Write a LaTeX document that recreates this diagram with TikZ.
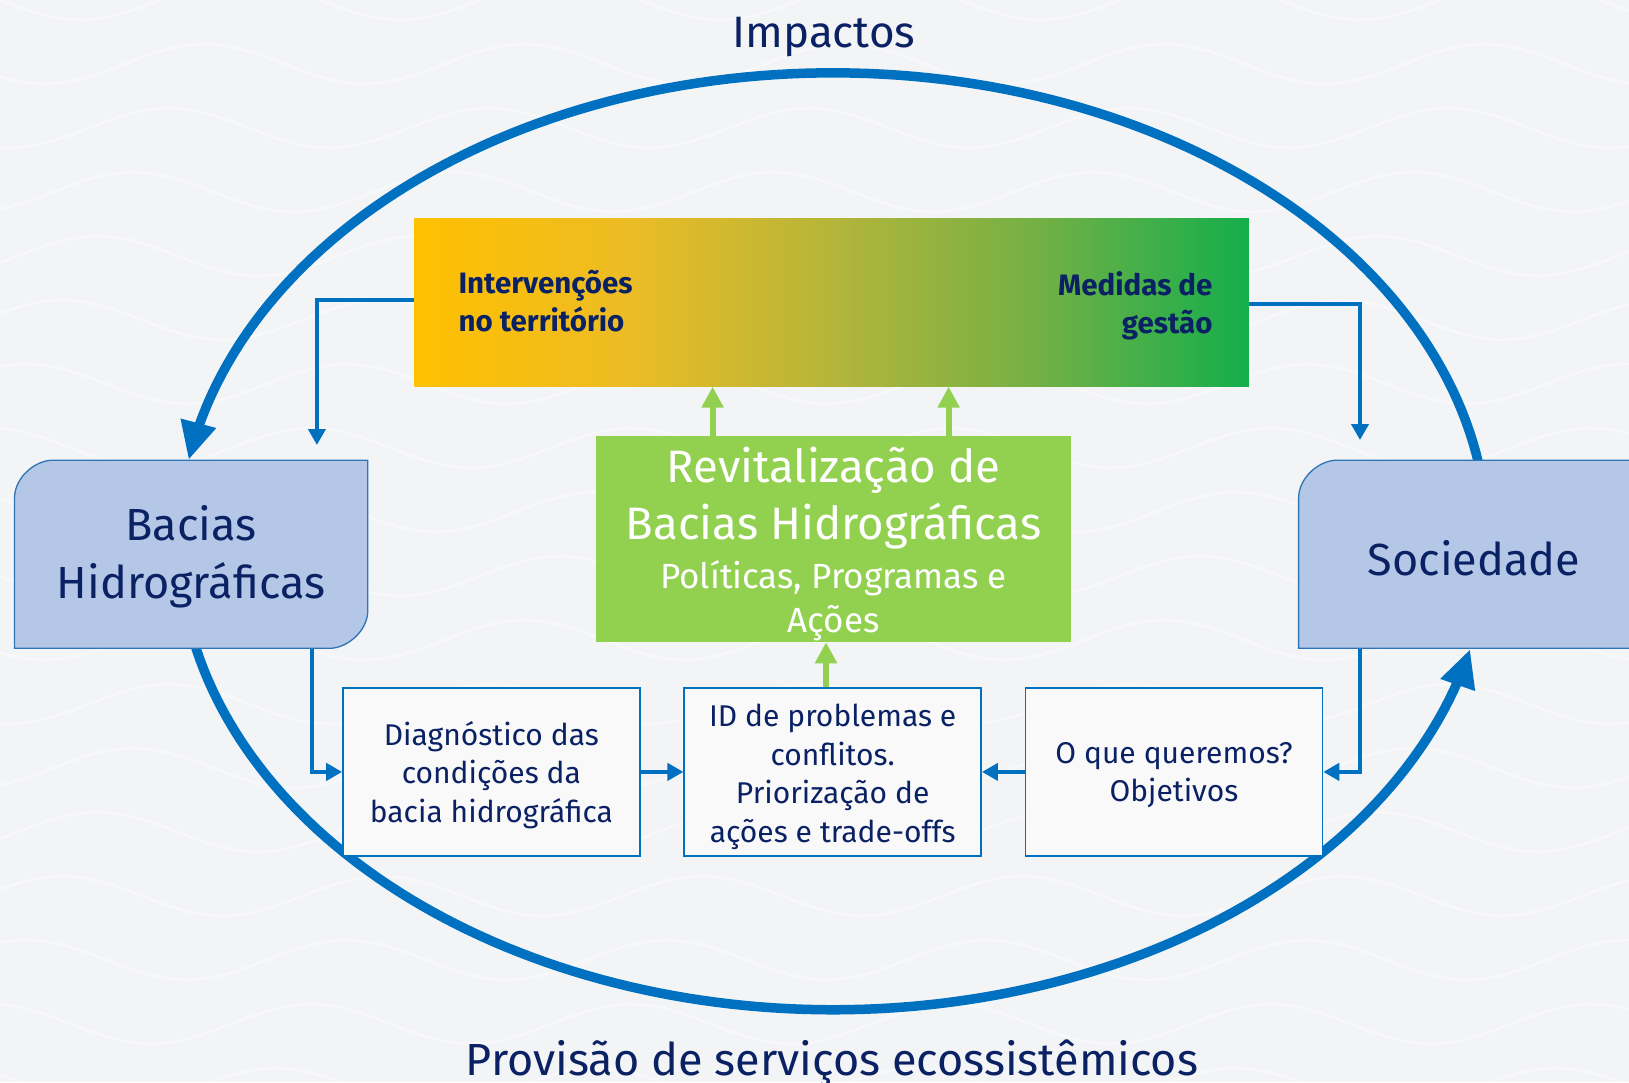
\documentclass[tikz,border=0pt]{standalone}
\usepackage{fontspec}
\setmainfont{Fira Sans}
\usetikzlibrary{arrows.meta}
\definecolor{navy}{HTML}{0A2164}
\definecolor{blu}{HTML}{0070C0}
\definecolor{boxfill}{HTML}{B4C7E7}
\definecolor{boxline}{HTML}{2E75B6}
\definecolor{grn}{HTML}{92D050}
\definecolor{bgc}{HTML}{F3F4F6}
\definecolor{ga}{HTML}{FFC000}
\definecolor{gb}{HTML}{EDBC24}
\definecolor{gc}{HTML}{B5B53A}
\definecolor{gd}{HTML}{72B045}
\definecolor{ge}{HTML}{14AE4C}
\definecolor{smallfill}{HTML}{F9F9FA}
\pgfdeclarehorizontalshading{barshade}{100bp}{color(0bp)=(ga); color(25bp)=(ga); color(37.5bp)=(gb); color(50bp)=(gc); color(62.5bp)=(gd); color(75bp)=(ge); color(100bp)=(ge)}
\tikzset{
  bigarc/.style={blu, line width=9.5pt, -{Triangle[length=38pt,width=34pt]}},
  bconn/.style={blu, line width=4pt, -{Triangle[length=16pt,width=17pt]}},
  gconn/.style={grn, line width=6pt, -{Triangle[length=21pt,width=21pt]}},
  smallbox/.style={draw=blu, line width=1.5pt, fill=smallfill, minimum width=297pt, minimum height=168pt, inner sep=0pt},
  smalltxt/.style={text=navy, align=center, font=\fontsize{30}{38.5}\selectfont},
  bigtxt/.style={text=navy, align=center, font=\fontsize{45}{58}\selectfont},
  bartxt/.style={text=navy, font=\bfseries\fontsize{29.5}{37.5}\selectfont},
  wave/.style={white, line width=2.5pt, opacity=0.45}
}
\begin{document}
\begin{tikzpicture}[x=1pt,y=-1pt]
\fill[bgc] (0,0) rectangle (1629,1082);
\useasboundingbox (0,0) rectangle (1629,1082);
\begin{scope}
\clip (0,0) rectangle (1629,1082);
\foreach \r in {0,...,17} {
  \draw[wave] plot[domain=-100:1750, samples=90] (\x, {\r*64 + 20*sin(\x*1.125 + \r*40)});
}
\end{scope}

% titles
\node[anchor=base, text=navy, font=\fontsize{44}{50}\selectfont] (imp) at (824,47) {Impactos};
\node[anchor=base, text=navy, font=\fontsize{45}{50}\selectfont] (prov) at (832,1075) {Provisão de serviços ecossistêmicos};

% big ellipse arcs
\draw[bigarc] plot[domain=-8:-170, samples=120] ({833.2+654.5*cos(\x)}, {541.3+468.5*sin(\x)});
\draw[bigarc] plot[domain=168:13.3, samples=120] ({833.2+654.5*cos(\x)}, {541.3+468.5*sin(\x)});

% gradient bar
\node[minimum width=834.3pt, minimum height=168.3pt, inner sep=0pt, shading=barshade] (bar) at (831.6,302.3) {};
\node[bartxt, anchor=west, align=left] (interv) at (455,301.3) {Intervenções\\no território};
\node[bartxt, anchor=east, align=right] (medidas) at (1216,305.8) {Medidas de\\gestão};

% green box
\node[fill=grn, minimum width=474.7pt, minimum height=205.7pt, inner sep=0pt] (rev) at (833.6,539.2) {};
\node[text=white, align=center, font=\fontsize{45.5}{57.4}\selectfont] (revt) at (833.6,498.3) {Revitalização de\\Bacias Hidrográficas};
\node[text=white, align=center, font=\fontsize{35}{43.4}\selectfont] (revs) at (833.6,600.5) {Políticas, Programas e\\Ações};

% Bacias box
\node[minimum width=353.3pt, minimum height=188.1pt, inner sep=0pt] (bacias) at (191.15,554.25) {};
\draw[fill=boxfill, draw=boxline, line width=1.3pt]
  (14.5,648.3) -- (14.5,498.2) .. controls (14.5,477.2) and (35.5,460.2) .. (52.5,460.2)
  -- (367.8,460.2) -- (367.8,610.3) .. controls (367.8,631.3) and (346.8,648.3) .. (329.8,648.3) -- cycle;
\node[bigtxt] (bacl) at (191,557) {Bacias\\Hidrográficas};

% Sociedade box
\node[minimum width=361.4pt, minimum height=188.1pt, inner sep=0pt] (soc) at (1479.3,554.25) {};
\draw[fill=boxfill, draw=boxline, line width=1.3pt]
  (1298.6,648.3) -- (1298.6,498.2) .. controls (1298.6,477.2) and (1319.6,460.2) .. (1336.6,460.2)
  -- (1640,460.2) -- (1640,648.3) -- cycle;
\node[bigtxt] (socl) at (1474,558) {Sociedade};

% small boxes
\node[smallbox] (diag) at (491.4,771.9) {};
\node[smalltxt] at ([yshift=-3]diag.center) {Diagnóstico das\\condições da\\bacia hidrográfica};
\node[smallbox] (id) at (832.7,771.9) {};
\node[smalltxt] at ([yshift=-5]id.center) {ID de problemas e\\conflitos.\\Priorização de\\ações e trade-offs};
\node[smallbox] (oque) at (1174,771.9) {};
\node[smalltxt] at ([yshift=-3.5]oque.center) {O que queremos?\\Objetivos};

% blue connectors
\coordinate (ltip) at (316.9,445);
\coordinate (rtip) at (1360,440);
\draw[bconn] ([yshift=2]bar.west) -| (ltip);
\draw[bconn] ([yshift=-2]bar.east) -| (rtip);
\draw[bconn] ([xshift=120.5]bacias.south) |- (diag.west);
\draw[bconn] ([xshift=-119.3]soc.south) |- (oque.east);
\draw[bconn] (diag.east) -- (id.west);
\draw[bconn] (oque.west) -- (id.east);

% green connectors
\draw[gconn] ([xshift=-121]rev.north) -- ([xshift=-121]rev.north |- bar.south);
\draw[gconn] ([xshift=115]rev.north) -- ([xshift=115]rev.north |- bar.south);
\draw[gconn] ([xshift=-6.7]id.north) -- ([xshift=-6.7]id.north |- rev.south);
\end{tikzpicture}
\end{document}
